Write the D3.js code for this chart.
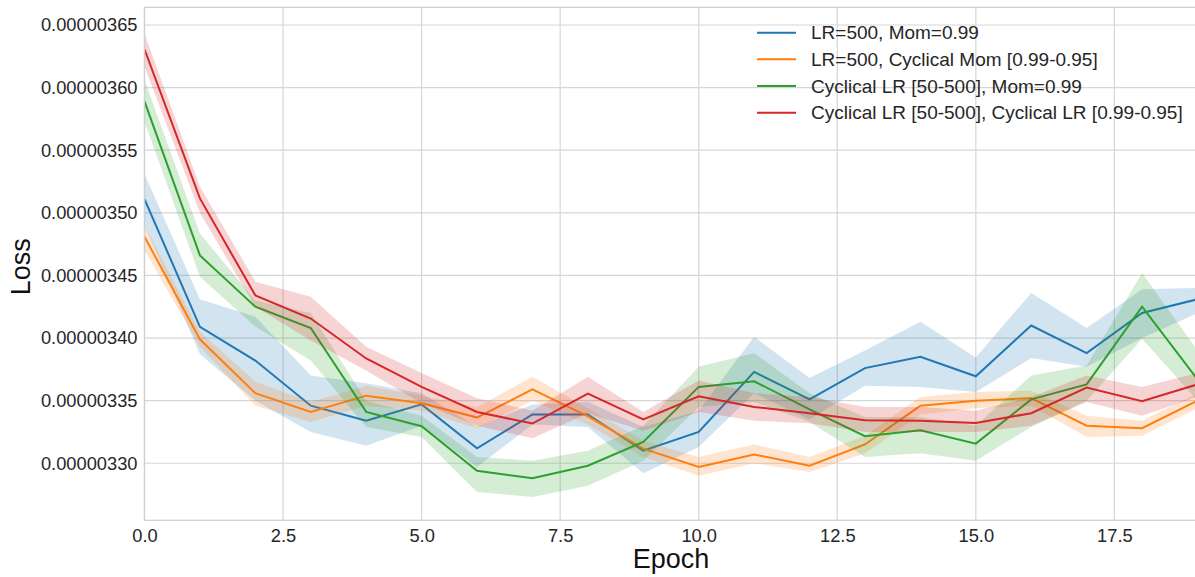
<!DOCTYPE html>
<html><head><meta charset="utf-8">
<script src="https://cdn.jsdelivr.net/npm/d3@7"></script>
<style>
html,body{margin:0;padding:0;background:#fff;}
text{font-family:"Liberation Sans",Arial,sans-serif;}
</style></head>
<body>
<svg id="chart" width="1195" height="577"></svg>
<script>
// values in units of 1e-6
const UNIT = 1e-6;
const epochs = d3.range(0, 20);
const seriesNames = ["LR=500, Mom=0.99", "LR=500, Cyclical Mom [0.99-0.95]", "Cyclical LR [50-500], Mom=0.99", "Cyclical LR [50-500], Cyclical LR [0.99-0.95]"];
const seriesColors = ["#1f77b4", "#ff7f0e", "#2ca02c", "#d62728"];

const blueMean  = [3.511,3.409,3.382,3.346,3.334,3.347,3.312,3.339,3.339,3.310,3.325,3.373,3.351,3.376,3.385,3.3695,3.410,3.388,3.420,3.431];
const blueLow   = [3.490,3.387,3.350,3.325,3.314,3.330,3.297,3.331,3.329,3.292,3.313,3.356,3.335,3.362,3.361,3.357,3.384,3.377,3.400,3.420];
const blueHigh  = [3.531,3.431,3.417,3.370,3.364,3.356,3.329,3.347,3.349,3.329,3.342,3.401,3.368,3.390,3.413,3.3845,3.436,3.408,3.439,3.440];

const orangeMean = [3.481,3.399,3.356,3.341,3.354,3.348,3.3365,3.359,3.3375,3.3117,3.297,3.307,3.298,3.315,3.346,3.350,3.352,3.330,3.328,3.350];
const orangeLow  = [3.470,3.393,3.346,3.333,3.346,3.342,3.328,3.350,3.331,3.305,3.290,3.300,3.293,3.308,3.339,3.344,3.346,3.321,3.322,3.344];
const orangeHigh = [3.490,3.405,3.365,3.349,3.362,3.354,3.345,3.369,3.344,3.318,3.305,3.315,3.305,3.322,3.353,3.357,3.358,3.338,3.334,3.356];

const greenMean = [3.589,3.466,3.425,3.408,3.341,3.3296,3.294,3.288,3.298,3.317,3.361,3.3655,3.343,3.3216,3.3264,3.3157,3.351,3.363,3.425,3.367];
const greenLow  = [3.573,3.449,3.409,3.382,3.329,3.321,3.277,3.273,3.282,3.302,3.345,3.349,3.333,3.305,3.308,3.302,3.329,3.350,3.3995,3.350];
const greenHigh = [3.606,3.4835,3.430,3.420,3.350,3.338,3.305,3.302,3.310,3.330,3.377,3.388,3.356,3.337,3.337,3.330,3.370,3.378,3.452,3.390];

const redMean = [3.6306,3.5115,3.434,3.4156,3.3837,3.361,3.341,3.3317,3.3557,3.335,3.3535,3.345,3.340,3.3344,3.334,3.3322,3.340,3.3605,3.3495,3.363];
const redLow  = [3.617,3.500,3.425,3.398,3.374,3.348,3.330,3.320,3.340,3.326,3.341,3.334,3.332,3.325,3.325,3.325,3.330,3.349,3.338,3.353];
const redHigh = [3.643,3.521,3.445,3.433,3.393,3.372,3.352,3.342,3.369,3.341,3.366,3.356,3.353,3.345,3.345,3.342,3.353,3.370,3.361,3.372];

const xTicks = [0, 2.5, 5, 7.5, 10, 12.5, 15, 17.5];
const yTicks = [3.30, 3.35, 3.40, 3.45, 3.50, 3.55, 3.60, 3.65];
const xLabel = "Epoch";
const yLabel = "Loss";

const series = [
  {name: seriesNames[0], color: seriesColors[0], mean: blueMean, low: blueLow, high: blueHigh},
  {name: seriesNames[1], color: seriesColors[1], mean: orangeMean, low: orangeLow, high: orangeHigh},
  {name: seriesNames[2], color: seriesColors[2], mean: greenMean, low: greenLow, high: greenHigh},
  {name: seriesNames[3], color: seriesColors[3], mean: redMean, low: redLow, high: redHigh}
];

const svg = d3.select("#chart");
const L = 144.5, R = 1197.5, T = 7.3, B = 520.3;
const x = d3.scaleLinear().domain([0, 19]).range([L, R]);
const y = d3.scaleLinear().domain([3.25445 * UNIT, 3.66414 * UNIT]).range([B, T]);

svg.append("rect").attr("x", 0).attr("y", 0).attr("width", 1195).attr("height", 577).attr("fill", "#fff");

// grid
const grid = svg.append("g");
grid.selectAll("line.gx").data(xTicks).enter().append("line")
  .attr("x1", d => x(d)).attr("x2", d => x(d)).attr("y1", T).attr("y2", B)
  .attr("stroke", "#d6d6d6").attr("stroke-width", 1.2);
grid.selectAll("line.gy").data(yTicks).enter().append("line")
  .attr("x1", L).attr("x2", R).attr("y1", d => y(d * UNIT)).attr("y2", d => y(d * UNIT))
  .attr("stroke", "#d6d6d6").attr("stroke-width", 1.2);

svg.append("defs").append("clipPath").attr("id", "clip")
  .append("rect").attr("x", L).attr("y", T).attr("width", R - L).attr("height", B - T);

const plot = svg.append("g").attr("clip-path", "url(#clip)");
const area = d3.area().x((d, i) => x(epochs[i])).y0(d => y(d[0] * UNIT)).y1(d => y(d[1] * UNIT));
const line = d3.line().x((d, i) => x(epochs[i])).y(d => y(d * UNIT));

series.forEach(s => {
  const band = s.low.map((v, i) => [v, s.high[i]]);
  plot.append("path").attr("d", area(band)).attr("fill", s.color).attr("fill-opacity", 0.2).attr("stroke", "none");
  plot.append("path").attr("d", line(s.mean)).attr("fill", "none").attr("stroke", s.color).attr("stroke-width", 2);
});

// spines
svg.append("rect").attr("x", L).attr("y", T).attr("width", R - L).attr("height", B - T)
  .attr("fill", "none").attr("stroke", "#d0d0d0").attr("stroke-width", 1.3);

// axes (no tick marks)
const xAxis = d3.axisBottom(x).tickValues(xTicks).tickFormat(d => d.toFixed(1)).tickSize(0).tickPadding(9);
const gx = svg.append("g").attr("transform", `translate(0,${B})`).call(xAxis);
gx.select(".domain").remove();
gx.selectAll("text").attr("font-size", 18.3).attr("fill", "#262626").attr("font-family", "Liberation Sans, Arial, sans-serif");

const yAxis = d3.axisLeft(y).tickValues(yTicks.map(v => v * UNIT)).tickFormat(d => (d).toFixed(8)).tickSize(0).tickPadding(7);
const gy = svg.append("g").attr("transform", `translate(${L},0)`).call(yAxis);
gy.select(".domain").remove();
gy.selectAll("text").attr("font-size", 18.3).attr("fill", "#262626").attr("font-family", "Liberation Sans, Arial, sans-serif");

// axis labels
svg.append("text").attr("x", (L + R) / 2).attr("y", 568).attr("text-anchor", "middle")
  .attr("font-size", 27).attr("fill", "#111").text(xLabel);
svg.append("text").attr("transform", `translate(30,${(T + B) / 2 + 3}) rotate(-90)`).attr("text-anchor", "middle")
  .attr("font-size", 27).attr("fill", "#111").text(yLabel);

// legend
const leg = svg.append("g");
series.forEach((s, i) => {
  const yy = 32.7 + i * 26.67;
  leg.append("line").attr("x1", 757).attr("x2", 796).attr("y1", yy).attr("y2", yy)
    .attr("stroke", s.color).attr("stroke-width", 2);
  leg.append("text").attr("x", 811).attr("y", yy).attr("dy", "0.35em")
    .attr("font-size", 19).attr("fill", "#262626").text(s.name);
});
</script>
</body></html>
